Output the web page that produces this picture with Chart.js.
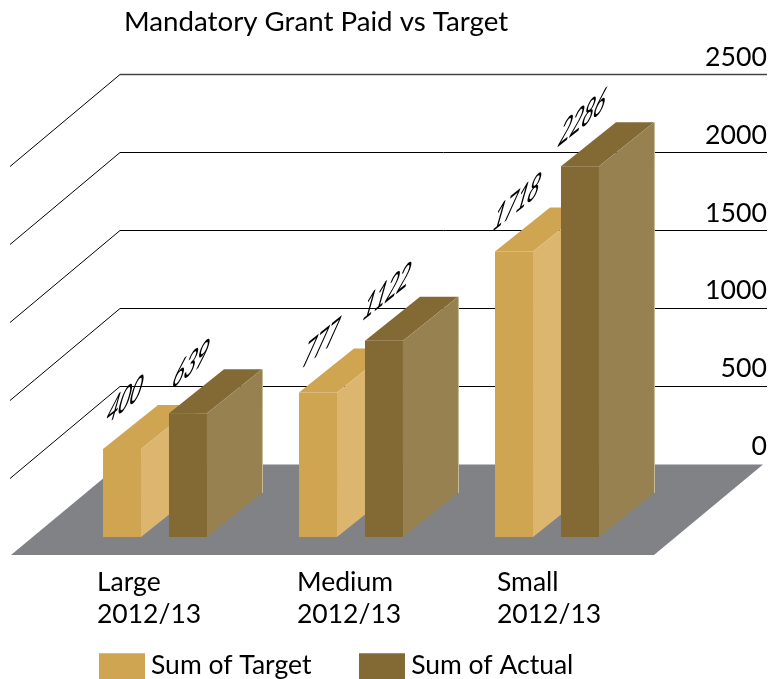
<!DOCTYPE html>
<html>
<head>
<meta charset="utf-8">
<style>html,body{margin:0;padding:0;background:#fff;overflow:hidden}canvas{display:block}</style>
<script src="https://cdn.jsdelivr.net/npm/chart.js@4"></script>
</head>
<body>
<canvas id="c" width="769" height="679"></canvas>
<script>
const titleText = 'Mandatory Grant Paid vs Target';
const categories = [['Large','2012/13'],['Medium','2012/13'],['Small','2012/13']];
const sumOfTarget = [400, 777, 1718];
const sumOfActual = [639, 1122, 2286];
const yTickValues = [0, 500, 1000, 1500, 2000, 2500];
const FONT = 'Lato';
const DEPTH_X = 55, DEPTH_Y = 44;
const colors = {
  target:{front:'#cfa552', side:'#dcb56f', edge:'#ecd9ae'},
  actual:{front:'#836a35', side:'#978150', edge:'#c9bb93'},
  floor:'#808285'
};
function swatch(color){
  const c = document.createElement('canvas'); c.width = 46; c.height = 40;
  const g = c.getContext('2d'); g.fillStyle = color; g.fillRect(0, 8, 46, 32);
  return c;
}
const swatches = [swatch(colors.target.front), swatch(colors.actual.front)];
const faces = [colors.target, colors.actual];

const threeD = {
  id:'threeD',
  beforeLayout(chart){
    const lg = chart.legend;
    if (!lg._fitPatched){
      const fit = lg.fit;
      lg.fit = function(){ fit.call(this); this.height = 30; };
      lg._fitPatched = true;
    }
  },
  afterLayout(chart){
    const pad = chart.options.plugins.legend.labels.padding;
    chart.titleBlock.left = 124;
    chart.legend.left = 106.25 - pad;
    chart.legend.top = 652 - pad;
  },
  beforeDatasetsDraw(chart){
    const ctx = chart.ctx, y = chart.scales.y;
    const floorTop = y.getPixelForValue(0) + 1;
    const floorBottom = chart.chartArea.bottom;
    ctx.save();
    // walls: grid lines and their diagonals on the left side wall
    yTickValues.filter(v => v > 0).forEach(v => {
      const py = Math.round(y.getPixelForValue(v)) + 0.5;
      const top = v === yTickValues[yTickValues.length - 1];
      ctx.strokeStyle = '#000'; ctx.lineWidth = 1;
      ctx.beginPath();
      ctx.moveTo(120, py); ctx.lineTo(10, py + 92);
      ctx.stroke();
      ctx.strokeStyle = top ? '#444' : '#000';
      ctx.lineWidth = top ? 1.6 : 1;
      ctx.beginPath();
      ctx.moveTo(767, py); ctx.lineTo(120, py);
      ctx.stroke();
    });
    // floor
    ctx.fillStyle = colors.floor;
    ctx.beginPath();
    ctx.moveTo(120, floorTop); ctx.lineTo(763, floorTop);
    ctx.lineTo(654, floorBottom); ctx.lineTo(11, floorBottom);
    ctx.closePath(); ctx.fill();
    // depth faces of the bars, target first so actual covers it
    chart.data.datasets.forEach((ds, i) => {
      const f = faces[i];
      chart.getDatasetMeta(i).data.forEach(el => {
        const p = el.getProps(['x','y','base','width'], true);
        const l = p.x - p.width/2, r = p.x + p.width/2, t = p.y, b = p.base;
        ctx.fillStyle = f.front;
        ctx.beginPath();
        ctx.moveTo(l,t); ctx.lineTo(l+DEPTH_X,t-DEPTH_Y); ctx.lineTo(r+DEPTH_X,t-DEPTH_Y); ctx.lineTo(r,t);
        ctx.closePath(); ctx.fill();
        ctx.fillStyle = f.side;
        ctx.beginPath();
        ctx.moveTo(r,t); ctx.lineTo(r+DEPTH_X,t-DEPTH_Y); ctx.lineTo(r+DEPTH_X,b-DEPTH_Y); ctx.lineTo(r,b);
        ctx.closePath(); ctx.fill();
        ctx.strokeStyle = f.edge; ctx.lineWidth = 1;
        ctx.beginPath();
        ctx.moveTo(r+DEPTH_X+0.5,t-DEPTH_Y); ctx.lineTo(r+DEPTH_X+0.5,b-DEPTH_Y);
        ctx.stroke();
      });
    });
    ctx.restore();
  },
  beforeDraw(chart){
    // category labels in the reference are spaced slightly wider than the bars
    const sx = chart.scales.x;
    if (!sx._spread){
      sx.getLabelItems(chart.chartArea).forEach((it,i) => { it.options.translation[0] += (i-1)*4; });
      sx._spread = true;
    }
  },
  afterDatasetsDraw(chart){
    const ctx = chart.ctx;
    chart.data.datasets.forEach((ds,i) => {
      chart.getDatasetMeta(i).data.forEach((el,j) => {
        const p = el.getProps(['x','y'], true);
        ctx.save();
        ctx.transform(0.83,-0.66,-0.45,1.6,p.x+3,p.y-49);
        ctx.font = '24px '+FONT;
        ctx.fillStyle = '#000';
        ctx.textAlign = 'center';
        ctx.textBaseline = 'middle';
        ctx.fillText(String(ds.data[j]),0,0);
        ctx.restore();
      });
    });
  }
};

new Chart(document.getElementById('c'), {
  type:'bar',
  plugins:[threeD],
  data:{
    labels:categories,
    datasets:[
      {label:'Sum of Target', data:sumOfTarget, backgroundColor:colors.target.front, yAxisID:'front', base:-187, barPercentage:0.576, categoryPercentage:0.673},
      {label:'Sum of Actual', data:sumOfActual, backgroundColor:colors.actual.front, yAxisID:'front', base:-187, barPercentage:0.576, categoryPercentage:0.673}
    ]
  },
  options:{
    responsive:false,
    animation:false,
    layout:{padding:{left:57,right:2,top:0,bottom:0}},
    plugins:{
      tooltip:{enabled:false},
      title:{display:true,text:titleText,align:'start',color:'#000',
        font:{family:FONT,size:27.7,weight:'normal',lineHeight:1.2},padding:{top:5,bottom:36}},
      legend:{display:true,position:'bottom',align:'start',
        labels:{usePointStyle:true,pointStyleWidth:31.5,padding:55,color:'#000',
          font:{family:FONT,size:26.5,lineHeight:1},
          generateLabels(chart){
            const items = Chart.defaults.plugins.legend.labels.generateLabels(chart);
            items.forEach(it => { it.pointStyle = swatches[it.datasetIndex]; });
            return items;
          }}}
    },
    scales:{
      x:{position:'bottom',grid:{display:false,drawTicks:false},border:{display:false},
        afterFit(s){s.height=94;},
        ticks:{align:'start',labelOffset:-54,padding:12,autoSkip:false,maxRotation:0,minRotation:0,color:'#000',
          font:{family:FONT,size:26.5,lineHeight:1.2}}},
      y:{position:'right',min:-587,max:2500,grid:{display:false,drawTicks:false},border:{display:false},
        afterBuildTicks(s){s.ticks=yTickValues.map(value=>({value}));},
        afterFit(s){s.width=122;},
        ticks:{crossAlign:'far',labelOffset:-17,padding:0,color:'#000',autoSkip:false,
          callback:v=>String(v),font:{family:FONT,size:26.7}}},
      front:{display:false,min:-307,max:2900}
    }
  }
});
</script>
</body>
</html>
